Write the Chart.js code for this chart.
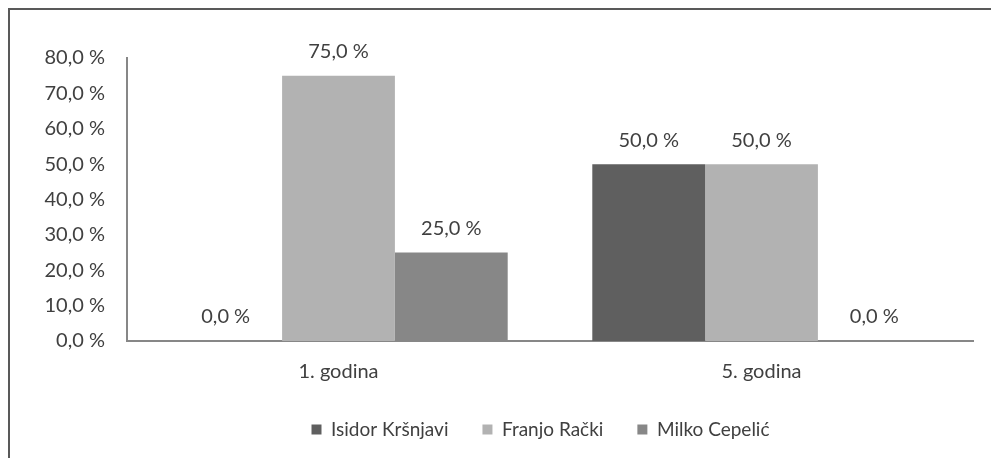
<!DOCTYPE html>
<html>
<head>
<meta charset="utf-8">
<script src="https://cdn.jsdelivr.net/npm/chart.js@4/dist/chart.umd.min.js"></script>
<style>
  html, body { margin: 0; padding: 0; background: #fff; overflow: hidden; }
  #frame {
    position: absolute; left: 8px; top: 8px; width: 1100px; height: 600px;
    border-left: 2px solid #595959; border-top: 2px solid #595959;
  }
  #wrap { position: absolute; left: 0; top: 0; width: 991px; height: 458px; }
</style>
</head>
<body>
<div id="frame"></div>
<div id="wrap"><canvas id="chart"></canvas></div>
<script>
// podaci s grafikona
const categories = ['1. godina', '5. godina'];
const seriesNames = ['Isidor Kršnjavi', 'Franjo Rački', 'Milko Cepelić'];
const isidorValues = [0, 50];
const franjoValues = [75, 50];
const milkoValues = [25, 0];
const yTicks = [0, 10, 20, 30, 40, 50, 60, 70, 80];

const colors = ['#5f5f5f', '#b2b2b2', '#878787'];
const textColor = '#404040';
const fontFamily = 'Lato, "Open Sans", sans-serif';

function fmt(v) {
    return v.toFixed(1).replace('.', ',') + ' %';
}

// oznake vrijednosti iznad stupaca
const valueLabels = {
    id: 'valueLabels',
    afterDatasetsDraw(chart) {
        const ctx = chart.ctx;
        ctx.save();
        ctx.font = '20px ' + fontFamily;
        ctx.fillStyle = textColor;
        ctx.textAlign = 'center';
        ctx.textBaseline = 'middle';
        chart.data.datasets.forEach((ds, i) => {
            const meta = chart.getDatasetMeta(i);
            meta.data.forEach((bar, j) => {
                ctx.fillText(fmt(ds.data[j]), bar.x, bar.y - 24);
            });
        });
        ctx.restore();
    }
};

// legenda malo gore i udesno (kao u originalu)
const legendShift = {
    id: 'legendShift',
    afterLayout(chart) {
        const lg = chart.legend;
        if (lg) {
            lg.top -= 9;
            lg.bottom -= 9;
            lg.left += 54;
            lg.right += 54;
        }
    }
};

const ctx = document.getElementById('chart').getContext('2d');
new Chart(ctx, {
    type: 'bar',
    data: {
        labels: categories,
        datasets: [
            { label: seriesNames[0], data: isidorValues, backgroundColor: colors[0] },
            { label: seriesNames[1], data: franjoValues, backgroundColor: colors[1] },
            { label: seriesNames[2], data: milkoValues, backgroundColor: colors[2] }
        ]
    },
    options: {
        responsive: true,
        maintainAspectRatio: false,
        animation: false,
        events: [],
        layout: { padding: { top: 58, right: 18, left: 0, bottom: 0 } },
        datasets: { bar: { barPercentage: 1.0, categoryPercentage: 0.8 } },
        scales: {
            x: {
                grid: { display: false, drawTicks: false },
                border: { display: true, color: '#878787', width: 2 },
                ticks: { color: textColor, font: { family: fontFamily, size: 20 }, padding: 19 },
                afterFit(scale) {
                    const legendH = scale.chart.legend ? scale.chart.legend.height : 0;
                    scale.height = 458 - 341 - legendH;
                }
            },
            y: {
                min: 0,
                max: 80,
                grid: { display: false, drawTicks: false },
                border: { display: true, color: '#878787', width: 2 },
                afterBuildTicks(scale) {
                    scale.ticks = yTicks.map(v => ({ value: v }));
                },
                afterFit(scale) { scale.width = 127; },
                ticks: {
                    color: textColor,
                    font: { family: fontFamily, size: 20 },
                    padding: 22,
                    callback: v => fmt(v)
                }
            }
        },
        plugins: {
            legend: {
                position: 'bottom',
                maxHeight: 68,
                labels: {
                    color: textColor,
                    font: { family: fontFamily, size: 19 },
                    boxWidth: 10,
                    boxHeight: 10,
                    padding: 34
                }
            },
            tooltip: { enabled: false }
        }
    },
    plugins: [valueLabels, legendShift]
});
</script>
</body>
</html>
